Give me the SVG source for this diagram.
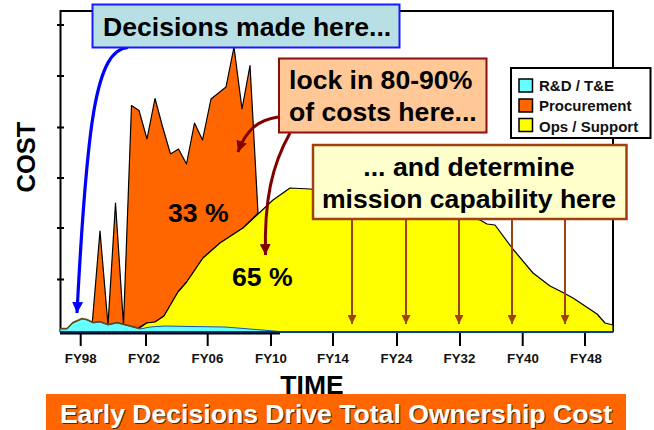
<svg xmlns="http://www.w3.org/2000/svg" width="654" height="430" viewBox="0 0 654 430">
<style>
text{font-family:"Liberation Sans",Arial,sans-serif;font-weight:700;fill:#000}
.big{font-size:26.6px}
.mid{font-size:26.6px;text-anchor:middle}
.fy{font-size:13.3px;text-anchor:middle;fill:#111}
.leg{font-size:15px;fill:#111}
.sw{stroke:#000;stroke-width:1.5}
.ax{fill:none;stroke:#000;stroke-width:2}
.area{stroke:#000;stroke-width:1.2;stroke-linejoin:round}
.brown{fill:none;stroke:#a0420f;stroke-width:2}
.red{fill:none;stroke:#800000;stroke-width:3}
</style>
<defs>
<marker id="mb" markerUnits="userSpaceOnUse" markerWidth="10" markerHeight="9" refX="9" refY="4.500" orient="auto"><path d="M0 0L9 4.500L0 9Z" fill="#a0420f"/></marker>
<marker id="mr" markerUnits="userSpaceOnUse" markerWidth="12" markerHeight="11" refX="11" refY="5.500" orient="auto"><path d="M0 0L11 5.500L0 11Z" fill="#800000"/></marker>
<marker id="mu" markerUnits="userSpaceOnUse" markerWidth="12" markerHeight="11" refX="11" refY="5.500" orient="auto"><path d="M0 0L11 5.500L0 11Z" fill="#0000ff"/></marker>
</defs>
<rect width="654" height="430" fill="#fff"/>
<g id="chart">
<path class="ax" d="M60.500 332V11H613V332"/>
<path class="ax" stroke-width="1.500" d="M57 25H64M57 76H64M57 127.500H64M57 178H64M57 228H64M57 279.500H64"/>
<path class="area" fill="#ff6600" d="M92 326L100 231L108 325L115.500 203L123.500 325L131.500 105.500L139 110.500L147 139L155 98.500L162.500 126.500L170.500 154L178.500 149L186.500 164L194.500 123L202.500 140L211 99L226 87L234 47L242 109L250 65.500L253 120L258 213L243 228L220 243L203 258L186.700 282L178 292L164 316L155 322L146.700 323L138 328L125 325L108 325Z"/>
<path class="area" fill="#ffff00" d="M138 329L146.700 323L155 322L164 316L178 292L186.700 282L203 258L220 243L243 228L257 215L273 200L290 188L310 189L330 192L480 220L487 224L495 225L512 248L533 273L550 286L560 291L573 298L597 314L605 323L613 325V332H138Z"/>
<path fill="#66ffff" stroke="#1155bb" stroke-width="1" d="M60 331V329L67 329L73 323L82 319L87 320L93 323L100 322L108 325L117 323L125 325L140 329L150 327L165 326L190 326.500L225 327L250 329L280 331.500L613 331.500V332H60Z"/>
<path fill="none" stroke="#6b4a10" stroke-width="1.500" d="M60 328.500L67 328.500L73 322.500L82 318.500L87 319.500L93 322.500L100 321.500L108 324.500L117 322.500L125 324.500L140 328.500"/>
<path fill="none" stroke="#003f99" stroke-width="2" d="M60 332H613"/>
<path fill="none" stroke="#000" stroke-width="2" d="M60 333.500H280"/>
<path class="ax" stroke-width="2.200" d="M80.700 333V346M146 333V346M207.700 333V346M271 333V346M333 333V346M397 333V346M460 333V346M522.700 333V346M585 333V346"/>
<text class="fy" x="80.700" y="363">FY98</text><text class="fy" x="144" y="363">FY02</text><text class="fy" x="207.500" y="363">FY06</text><text class="fy" x="271" y="363">FY10</text><text class="fy" x="333" y="363">FY14</text><text class="fy" x="396.500" y="363">FY24</text><text class="fy" x="459.500" y="363">FY32</text><text class="fy" x="523" y="363">FY40</text><text class="fy" x="586" y="363">FY48</text>
<text x="168" y="222" class="big">33 %</text>
<text x="232" y="286" class="big">65 %</text>
<text x="312" y="394" font-size="26.500" text-anchor="middle">TIME</text>
<text font-size="25.500" text-anchor="middle" transform="translate(35 157) rotate(-90)">COST</text>
</g>
<g id="legend">
<rect x="511" y="68" width="139.500" height="70" fill="#fff" stroke="#000" stroke-width="2"/>
<rect class="sw" x="519" y="79" width="13.500" height="13" fill="#66ffff"/><text class="leg" x="539" y="91">R&amp;D / T&amp;E</text>
<rect class="sw" x="519" y="99" width="13.500" height="13" fill="#ff6600"/><text class="leg" x="539" y="111">Procurement</text>
<rect class="sw" x="519" y="118.500" width="13.500" height="13" fill="#ffff00"/><text class="leg" x="539" y="132">Ops / Support</text>
</g>
<g id="connectors">
<path d="M128 47.500C96 50 87 120 77 313" fill="none" stroke="#0000ff" stroke-width="3.200" marker-end="url(#mu)"/>
<path class="red" d="M278 117C258 120 246 130 238 152" marker-end="url(#mr)"/>
<path class="red" d="M290 133C272 165 264 200 265.500 255" marker-end="url(#mr)"/>
<path class="brown" d="M352 219V324" marker-end="url(#mb)"/>
<path class="brown" d="M406 219V324" marker-end="url(#mb)"/>
<path class="brown" d="M459 219V324" marker-end="url(#mb)"/>
<path class="brown" d="M512 219V324" marker-end="url(#mb)"/>
<path class="brown" d="M565 219V324" marker-end="url(#mb)"/>
</g>
<g id="decisions">
<rect x="92.500" y="4.500" width="307" height="43" fill="#b8dfe3" stroke="#1a1aff" stroke-width="2"/>
<text x="103" y="36" class="big">Decisions made here...</text>
</g>
<g id="lock">
<rect x="279" y="58.500" width="207.500" height="74" fill="#ffc896" stroke="#8b0f0f" stroke-width="2"/>
<text x="289" y="89" class="big">lock in 80-90%</text>
<text x="289" y="121" class="big">of costs here...</text>
</g>
<g id="determine">
<rect x="313" y="145" width="313.500" height="74" fill="#ffffcc" stroke="#a0420f" stroke-width="2.500"/>
<text x="469" y="176" class="mid">... and determine</text>
<text x="469" y="208" class="mid">mission capability here</text>
</g>
<g id="banner">
<rect x="46" y="394" width="580" height="36" fill="#ff6600"/>
<text x="337" y="424" font-size="26.600" text-anchor="middle" style="fill:#4a2a10">Early Decisions Drive Total Ownership Cost</text>
<text x="336" y="423" font-size="26.600" text-anchor="middle" style="fill:#fff">Early Decisions Drive Total Ownership Cost</text>
</g>
</svg>
